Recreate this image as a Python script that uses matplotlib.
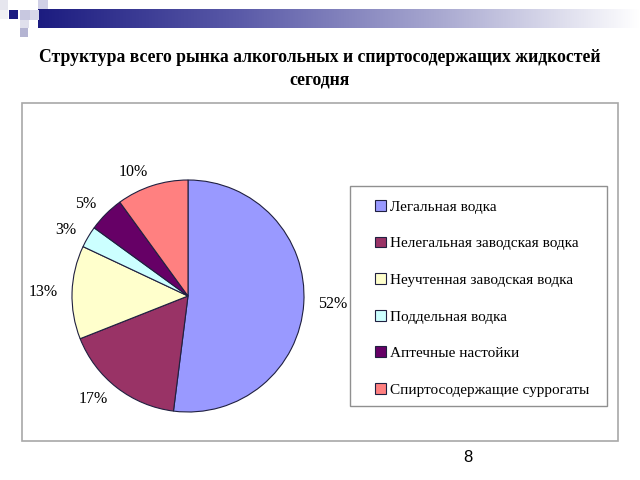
import matplotlib
matplotlib.use("Agg")
import matplotlib.pyplot as plt
from matplotlib.patches import Rectangle
from matplotlib.colors import LinearSegmentedColormap
import numpy as np

# data
categories = ["Легальная водка", "Нелегальная заводская водка", "Неучтенная заводская водка",
              "Поддельная водка", "Аптечные настойки", "Спиртосодержащие суррогаты"]
shares = [52, 17, 13, 3, 5, 10]
colors = ["#9999FF", "#993366", "#FFFFCC", "#CCFFFF", "#660066", "#FF8080"]
title = "Структура всего рынка алкогольных и спиртосодержащих жидкостей\nсегодня"

W, H = 640, 480
fig = plt.figure(figsize=(6.4, 4.8), dpi=100)
serif = ["Liberation Serif", "DejaVu Serif"]


def px_rect(x0, y0, x1, y1, **kw):
    # rectangle in pixel coords (origin top-left)
    return Rectangle((x0 / W, 1 - y1 / H), (x1 - x0) / W, (y1 - y0) / H,
                     transform=fig.transFigure, **kw)


# header decoration: gradient bar + small squares
bar = fig.add_axes([38 / W, 1 - 28 / H, (W - 38) / W, 19 / H])
grad = np.linspace(0, 1, 256)[None, :]
cmap = LinearSegmentedColormap.from_list("hdr", ["#1C1C80", "#5A5AA8", "#A8A8D0", "#FFFFFF"])
bar.imshow(grad, aspect="auto", cmap=cmap, extent=(0, 1, 0, 1))
bar.axis("off")
for (x0, y0, x1, y1, c) in [(0, 0, 8, 10, "#E6E6EE"), (9, 10, 18, 19, "#1C1C80"),
                            (20, 10, 30, 20, "#C8C8E0"), (30, 10, 39, 20, "#D8D8EA"),
                            (38, 0, 48, 9, "#D0D0E6"), (20, 20, 29, 28, "#E0E0EC"),
                            (20, 28, 28, 37, "#B4B4D2"), (0, 10, 8, 19, "#F0F0F4")]:
    fig.patches.append(px_rect(x0, y0, x1, y1, facecolor=c, edgecolor="none"))

fig.text(0.5, 1 - 69 / H, title, ha="center", va="center", fontsize=12.7,
         fontweight="bold", family=serif, linespacing=1.45)

# chart frame and legend frame
fig.patches.append(px_rect(22, 103, 618, 441, facecolor="none", edgecolor="#A8A8A8", lw=1.2))
fig.patches.append(px_rect(350, 186, 607, 406, facecolor="none", edgecolor="#909090", lw=1.0))

# pie
cx, cy, r = 188, 296, 116
ax = fig.add_axes([(cx - r) / W, 1 - (cy + r) / H, 2 * r / W, 2 * r / H])
wedges, texts = ax.pie(shares, colors=colors, startangle=90, counterclock=False,
                       labels=[f"{v}%" for v in shares], labeldistance=1.12,
                       wedgeprops=dict(edgecolor="#202040", linewidth=0.8),
                       textprops=dict(fontsize=11.5, family=serif))
ax.set_xlim(-1, 1)
ax.set_ylim(-1, 1)

# legend
leg = fig.legend(wedges, categories, loc="upper left",
                 bbox_to_anchor=(375 / W, 1 - 200 / H), bbox_transform=fig.transFigure,
                 prop=dict(family=serif, size=11), frameon=False,
                 labelspacing=1.5, handlelength=0.7, handleheight=0.7,
                 handletextpad=0.3, borderpad=0, borderaxespad=0)

fig.text(468 / W, 1 - 458 / H, "8", ha="center", va="center", fontsize=12,
         family=["Liberation Sans", "DejaVu Sans"])

fig.savefig("out.png", dpi=100)
